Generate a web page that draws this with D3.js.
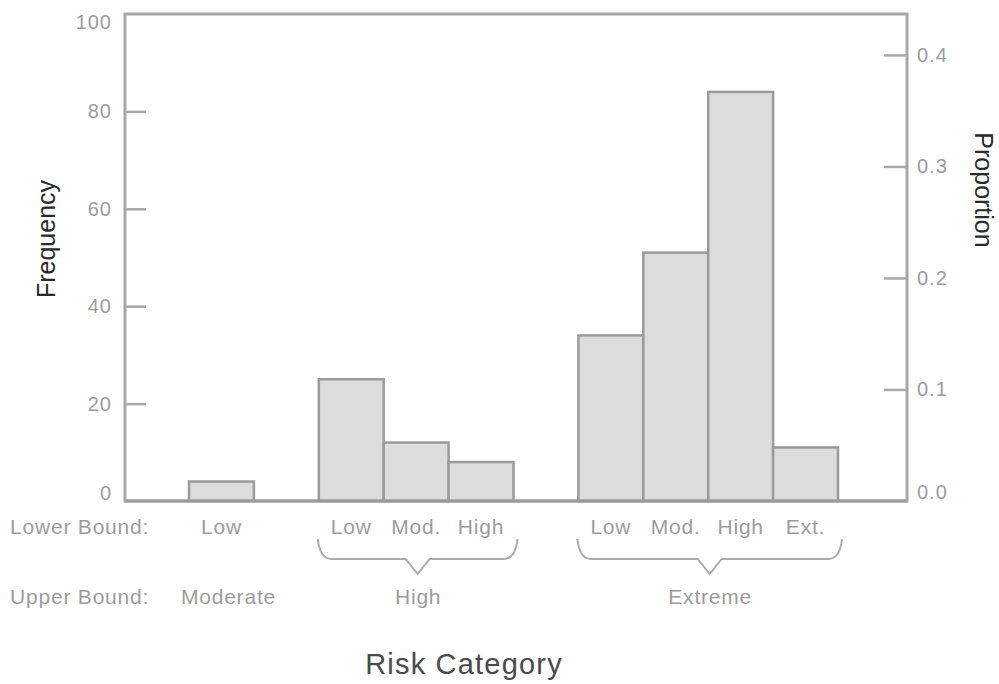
<!DOCTYPE html>
<html>
<head>
<meta charset="utf-8">
<script src="https://cdn.jsdelivr.net/npm/d3@7"></script>
<style>
  body { margin: 0; background: #fff; }
  svg text { font-family: "Liberation Sans", Arial, sans-serif; }
</style>
</head>
<body>
<svg id="chart" width="999" height="684"></svg>
<script>
// Risk categories: upper bound groups, lower bounds within each group
const upperBounds = ["Moderate", "High", "Extreme"];
const lowerBounds = [["Low"], ["Low", "Mod.", "High"], ["Low", "Mod.", "High", "Ext."]];
const frequencies = [[4], [25, 12, 8], [34, 51, 84, 11]];
const freqTicks = [0, 20, 40, 60, 80, 100];
const propTicks = [0, 0.1, 0.2, 0.3, 0.4];

const plot = { left: 125, right: 907, top: 14, bottom: 501 };
const labelGray = "#9c9c9c";
const frameGray = "#a8a8a8";

const svg = d3.select("#chart");

// Flatten into bars, inserting an empty slot between groups
const bars = [];
const slots = [];
upperBounds.forEach((ub, gi) => {
  if (gi > 0) slots.push("gap" + gi);
  lowerBounds[gi].forEach((lb, i) => {
    const key = ub + "|" + lb;
    slots.push(key);
    bars.push({ key, group: gi, upper: ub, lower: lb, value: frequencies[gi][i] });
  });
});
const total = d3.sum(bars, d => d.value);

const x = d3.scaleBand().domain(slots).range([189, 838]).paddingInner(0).paddingOuter(0);
const yFreq = d3.scaleLinear().domain([0, 100]).range([plot.bottom, plot.top]);
const yProp = d3.scaleLinear().domain([0, 100 / total]).range([plot.bottom, plot.top]);

// Bars
svg.append("g").selectAll("rect").data(bars).join("rect")
  .attr("x", d => x(d.key))
  .attr("y", d => yFreq(d.value))
  .attr("width", x.bandwidth())
  .attr("height", d => yFreq(0) - yFreq(d.value))
  .attr("fill", "#dcdcdc")
  .attr("stroke", "#9a9a9a")
  .attr("stroke-width", 2.5);

// Left frequency axis (ticks pointing inward)
const gLeft = svg.append("g").attr("transform", `translate(${plot.left},0)`)
  .call(d3.axisLeft(yFreq).tickValues(freqTicks).tickSize(-21).tickPadding(13));
gLeft.select(".domain").remove();
gLeft.selectAll(".tick line").attr("stroke", frameGray).attr("stroke-width", 2.5)
  .attr("display", d => (d === 0 || d === 100) ? "none" : null);
gLeft.selectAll(".tick text")
  .attr("fill", labelGray).attr("font-size", 20)
  .attr("font-family", "Liberation Sans, Arial, sans-serif")
  .attr("letter-spacing", 1)
  .attr("dy", d => d === 0 ? "-0.08em" : d === 100 ? "0.72em" : "0.32em");

// Right proportion axis (ticks pointing inward)
const gRight = svg.append("g").attr("transform", `translate(${plot.right},0)`)
  .call(d3.axisRight(yProp).tickValues(propTicks).tickSize(-23).tickPadding(10).tickFormat(d3.format(".1f")));
gRight.select(".domain").remove();
gRight.selectAll(".tick line").attr("stroke", frameGray).attr("stroke-width", 2.5)
  .attr("display", d => d === 0 ? "none" : null);
gRight.selectAll(".tick text")
  .attr("fill", labelGray).attr("font-size", 20)
  .attr("font-family", "Liberation Sans, Arial, sans-serif")
  .attr("letter-spacing", 1)
  .attr("dy", d => d === 0 ? "-0.12em" : "0.32em");

// Frame
svg.append("rect")
  .attr("x", plot.left).attr("y", plot.top)
  .attr("width", plot.right - plot.left).attr("height", plot.bottom - plot.top)
  .attr("fill", "none").attr("stroke", frameGray).attr("stroke-width", 3);
svg.append("line")
  .attr("x1", plot.left).attr("x2", plot.right)
  .attr("y1", plot.bottom).attr("y2", plot.bottom)
  .attr("stroke", "#9a9a9a").attr("stroke-width", 3);

// Category labels under the bars
const rowLower = 534, rowUpper = 604;
const labelStyle = sel => sel.attr("font-size", 21).attr("fill", labelGray).attr("letter-spacing", 0.8);

svg.append("text").attr("x", 10).attr("y", rowLower).call(labelStyle).text("Lower Bound:");
svg.append("text").attr("x", 10).attr("y", rowUpper).call(labelStyle).text("Upper Bound:");

svg.append("g").selectAll("text").data(bars).join("text")
  .attr("x", d => x(d.key) + x.bandwidth() / 2)
  .attr("y", rowLower)
  .attr("text-anchor", "middle")
  .call(labelStyle)
  .text(d => d.lower);

// Group extents and braces
const groups = upperBounds.map((ub, gi) => {
  const gb = bars.filter(b => b.group === gi);
  const x0 = x(gb[0].key), x1 = x(gb[gb.length - 1].key) + x.bandwidth();
  return { upper: ub, x0, x1, n: gb.length };
});

svg.append("g").selectAll("path").data(groups.filter(g => g.n > 1)).join("path")
  .attr("d", g => {
    const a = g.x0 - 1, b = g.x1 + 4, c = (a + b) / 2;
    const top = 539, mid = 559, tip = 574;
    return `M${a},${top} Q${a + 2},${mid} ${a + 14},${mid} L${c - 12},${mid} L${c},${tip} L${c + 12},${mid} L${b - 14},${mid} Q${b - 2},${mid} ${b},${top}`;
  })
  .attr("fill", "none").attr("stroke", "#ababab").attr("stroke-width", 2);

svg.append("g").selectAll("text").data(groups).join("text")
  .attr("x", g => (g.x0 + g.x1) / 2 + (g.n > 1 ? 2 : 7))
  .attr("y", rowUpper)
  .attr("text-anchor", "middle")
  .call(labelStyle)
  .text(g => g.upper);

// Axis titles
svg.append("text")
  .attr("transform", `translate(55,239) rotate(-90)`)
  .attr("text-anchor", "middle").attr("font-size", 25).attr("fill", "#2a2a2a")
  .text("Frequency");
svg.append("text")
  .attr("transform", `translate(975,190) rotate(90)`)
  .attr("text-anchor", "middle").attr("font-size", 25).attr("fill", "#2a2a2a")
  .text("Proportion");
svg.append("text")
  .attr("x", 464).attr("y", 674)
  .attr("text-anchor", "middle").attr("font-size", 29).attr("fill", "#4a4a4a")
  .attr("letter-spacing", 1.2)
  .text("Risk Category");
</script>
</body>
</html>
